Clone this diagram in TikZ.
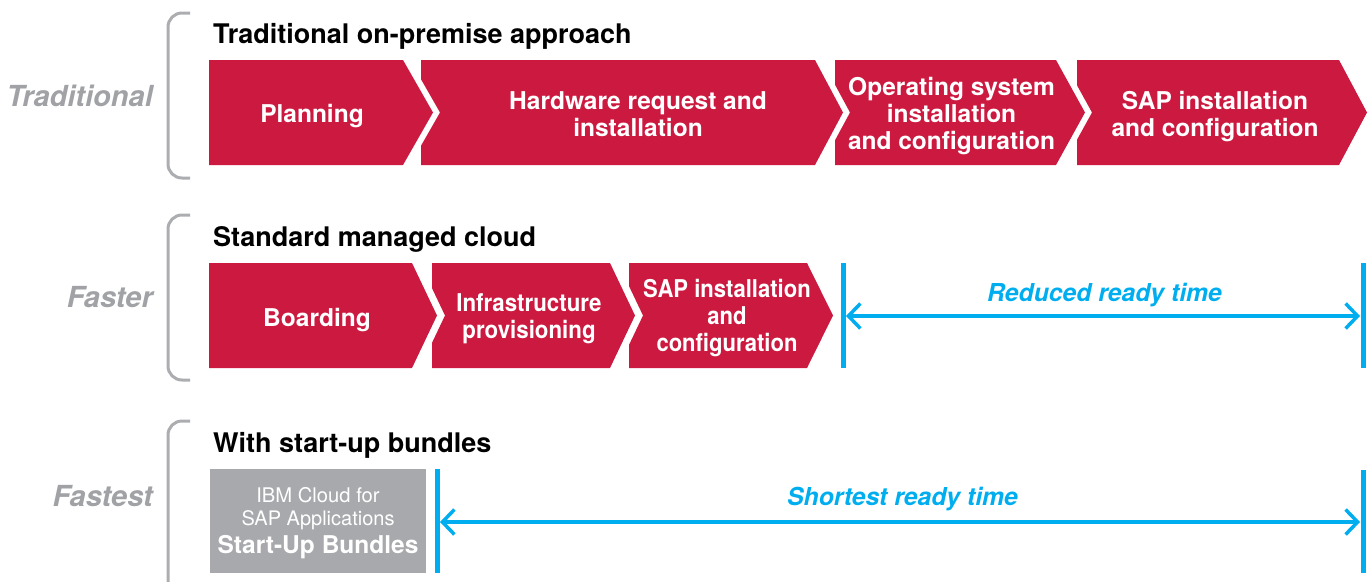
\documentclass[tikz,border=0pt]{standalone}
\usepackage{fontspec}
\setmainfont{TeX Gyre Heros}
\usetikzlibrary{arrows.meta}
\definecolor{ibmred}{RGB}{204,25,64}
\definecolor{ibmblue}{RGB}{0,174,239}
\definecolor{boxgray}{RGB}{167,169,172}
\definecolor{lblgray}{RGB}{160,162,165}
\definecolor{brgray}{RGB}{172,173,176}
\tikzset{
  chevfill/.style={fill=ibmred},
  chevtext/.style={text=white, font=\bfseries\fontsize{24.5}{27}\selectfont, align=center, inner sep=0pt},
  rowlabel/.style={text=lblgray, font=\bfseries\itshape\fontsize{29}{32}\selectfont, anchor=base east, inner sep=0pt},
  rowtitle/.style={text=black, font=\bfseries\fontsize{27}{30}\selectfont, anchor=base west, inner sep=0pt},
  bluelabel/.style={text=ibmblue, font=\bfseries\itshape\fontsize{24.7}{28}\selectfont, anchor=base, inner sep=0pt},
  bracket/.style={draw=brgray, line width=3pt, rounded corners=14pt},
  bluebar/.style={draw=ibmblue, line width=5pt},
  bluearrow/.style={draw=ibmblue, line width=3.5pt, {Straight Barb[length=12pt,width=25pt]}-{Straight Barb[length=12pt,width=25pt]}},
  graytext/.style={text=white, anchor=base, inner sep=0pt}
}
\begin{document}
\begin{tikzpicture}[x=1pt,y=-1pt]
\useasboundingbox (0,0) rectangle (1372,581);

% brackets
\draw[bracket] (190,13) -- (168,13) -- (168,178) -- (190,178);
\draw[bracket] (190,215) -- (168,215) -- (168,380) -- (190,380);
\draw[bracket] (190,421) -- (168,421) -- (168,600) -- (190,600);

% row labels
\node[rowlabel] (lab1) at (153,106) {Traditional};
\node[rowlabel] (lab2) at (153,307) {Faster};
\node[rowlabel] (lab3) at (153,506) {Fastest};

% row titles
\node[rowtitle] (title1) at (213,43) {Traditional on-premise approach};
\node[rowtitle] (title2) at (213,246) {Standard managed cloud};
\node[rowtitle] (title3) at (213,452) {With start-up bundles};

% row 1 chevrons
\fill[chevfill] (209,60) -- (403,60) -- (433,112.5) -- (403,165) -- (209,165) -- cycle;
\fill[chevfill] (421,60) -- (815,60) -- (843,112.5) -- (815,165) -- (421,165) -- (421,145.75) -- (440,112.5) -- (421,79.25) -- cycle;
\fill[chevfill] (835,60) -- (1056,60) -- (1085,112.5) -- (1056,165) -- (835,165) -- (835,140.3) -- (850,112.5) -- (835,84.7) -- cycle;
\fill[chevfill] (1077,60) -- (1339,60) -- (1367,112.5) -- (1339,165) -- (1077,165) -- (1077,139.7) -- (1092,112.5) -- (1077,85.3) -- cycle;

\node[chevtext] (c11) at (312,116) {Planning};
\node[chevtext] (c12) at (638,114) {Hardware request and\\installation};
\node[chevtext] (c13) at (951.5,116) {Operating system\\installation\\and configuration};
\node[chevtext] (c14) at (1215,117) {SAP installation\\and configuration};

% row 2 chevrons
\fill[chevfill] (209,263) -- (412,263) -- (437,315.5) -- (412,368) -- (209,368) -- cycle;
\fill[chevfill] (432,263) -- (610,263) -- (635,315.5) -- (610,368) -- (432,368) -- (432,342.8) -- (445,315.5) -- (432,288.2) -- cycle;
\fill[chevfill] (629,263) -- (807,263) -- (833,315.5) -- (807,368) -- (629,368) -- (629,344.9) -- (643,315.5) -- (629,286.1) -- cycle;

\node[chevtext] (c21) at (317,320) {Boarding};
\node[chevtext] (c22) at (529,320) {\scalebox{0.91}[1]{\begin{tabular}{@{}c@{}}Infrastructure\\provisioning\end{tabular}}};
\node[chevtext] (c23) at (727,319) {\scalebox{0.9}[1]{\begin{tabular}{@{}c@{}}SAP installation\\and\\configuration\end{tabular}}};

% row 3 gray box
\fill[boxgray] (210,469) rectangle (426,573);
\node[graytext, font=\fontsize{20.2}{23}\selectfont] (g1) at (318,502) {IBM Cloud for};
\node[graytext, font=\fontsize{20}{23}\selectfont] (g2) at (318,525) {SAP Applications};
\node[graytext, font=\bfseries\fontsize{24.5}{27}\selectfont] (g3) at (318,553) {Start-Up Bundles};

% blue bars
\coordinate (b1t) at (843,263); \coordinate (b1b) at (843,368);
\coordinate (b2t) at (1363,263); \coordinate (b2b) at (1363,368);
\coordinate (b3t) at (437,469); \coordinate (b3b) at (437,573);
\coordinate (b4t) at (1363,470); \coordinate (b4b) at (1363,573);
\draw[bluebar] (b1t) -- (b1b);
\draw[bluebar] (b2t) -- (b2b);
\draw[bluebar] (b3t) -- (b3b);
\draw[bluebar] (b4t) -- (b4b);

% arrows
\coordinate (a1l) at (846,316); \coordinate (a1r) at (1360,316);
\coordinate (a2l) at (440,522); \coordinate (a2r) at (1360,522);
\draw[bluearrow] (a1l) -- (a1r);
\draw[bluearrow] (a2l) -- (a2r);

\node[bluelabel] (rt) at (1104.5,301) {Reduced ready time};
\node[bluelabel] (st) at (902.5,505) {Shortest ready time};
\end{tikzpicture}
\end{document}
